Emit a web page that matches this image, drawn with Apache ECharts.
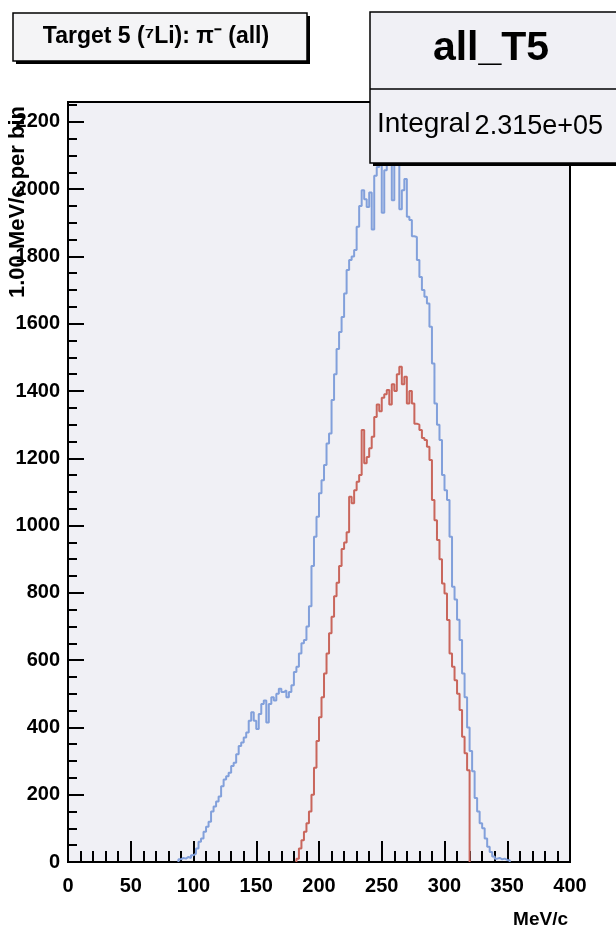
<!DOCTYPE html>
<html>
<head>
<meta charset="utf-8">
<script src="https://cdn.jsdelivr.net/npm/echarts@6/dist/echarts.min.js"></script>
<style>html,body{margin:0;padding:0;background:#fff}#c{width:616px;height:942px}</style>
</head>
<body>
<div id="c"></div>
<script>
// Histogram contents (counts per 1 MeV/c, read in 2 MeV/c steps)
const binWidth = 2;
const blueStart = 88;
const blueCounts = [
  8, 12, 10, 15, 12, 20,
  25, 40, 60, 70, 90,
  105, 120, 150, 165, 180,
  195, 225, 245, 255, 265,
  285, 295, 320, 345, 355,
  370, 385, 420, 445, 420,
  395, 440, 470, 480, 415,
  470, 490, 480, 500, 515,
  505, 510, 490, 505, 525,
  565, 580, 620, 650, 660,
  700, 760, 880, 967, 1026,
  1096, 1135, 1180, 1244, 1274,
  1373, 1450, 1525, 1575, 1620,
  1690, 1760, 1789, 1800, 1819,
  1888, 1950, 1997, 1970, 1947,
  1990, 1880, 2040, 2066, 2100,
  1930, 2056, 2120, 2150, 1967,
  2140, 2080, 1940, 1997, 2030,
  1918, 1908, 1860, 1858, 1789,
  1739, 1700, 1680, 1660, 1591,
  1482, 1363, 1300, 1254, 1150,
  1105, 1076, 967, 818, 780,
  720, 660, 560, 490, 400,
  330, 270, 190, 150, 115,
  100, 70, 45, 30, 16,
  10, 12, 8, 10, 6, 5
];
const redStart = 182;
const redCounts = [
  10, 40, 65, 90, 115, 150, 200, 280, 360,
  430, 490, 560, 620, 680, 729, 790, 830, 880, 930,
  950, 980, 1086, 1066, 1105, 1130, 1150, 1284, 1185, 1204,
  1230, 1264, 1323, 1360, 1340, 1380, 1390, 1403, 1360, 1420,
  1400, 1450, 1472, 1420, 1442, 1363, 1400, 1363, 1303, 1300,
  1284, 1260, 1254, 1234, 1195, 1076, 1016, 957, 900, 828,
  798, 719, 620, 580, 540, 500, 452, 372, 323, 273
];
const xMin = 0, xMax = 400, xStep = 50;
const yMin = 0, yMax = 2259, yStep = 200, yMinorStep = 50;
const titleText = 'Target 5 (\u2077Li): \u03c0\u207b (all)';
const statsName = 'all_T5';
const statsLabel = 'Integral';
const statsValue = '2.315e+05';
const xTitle = 'MeV/c';
const yTitle = '1.00 MeV/c per bin';

function toSteps(start, counts) {
  const pts = [[start, 0]];
  counts.forEach((c, i) => pts.push([start + i * binWidth, c]));
  pts.push([start + counts.length * binWidth, 0]);
  return pts;
}

const FONT = "'Liberation Sans', Arial, Helvetica, sans-serif";
const chart = echarts.init(document.getElementById('c'), null, {renderer: 'canvas'});
chart.setOption({
  animation: false,
  backgroundColor: '#ffffff',
  grid: {left: 68, right: 46, top: 102, bottom: 80, show: true,
         backgroundColor: '#f0f0f5', borderColor: '#000', borderWidth: 2},
  xAxis: {
    type: 'value', min: xMin, max: xMax, interval: xStep,
    axisLine: {show: true, onZero: false, lineStyle: {color: '#000', width: 2}},
    axisTick: {show: true, inside: true, length: 21, lineStyle: {color: '#000', width: 2}},
    minorTick: {show: true, splitNumber: 5, length: 11, lineStyle: {color: '#000', width: 2}},
    splitLine: {show: false}, minorSplitLine: {show: false},
    axisLabel: {color: '#000', fontFamily: FONT, fontWeight: 'bold', fontSize: 20, margin: 14}
  },
  yAxis: [{
    type: 'value', min: yMin, max: yMax, interval: yStep,
    axisLine: {show: true, onZero: false, lineStyle: {color: '#000', width: 2}},
    axisTick: {show: true, inside: true, length: 16, lineStyle: {color: '#000', width: 2}},
    splitLine: {show: false},
    axisLabel: {color: '#000', fontFamily: FONT, fontWeight: 'bold', fontSize: 20, margin: 8,
      showMaxLabel: false,
      formatter: v => (v % yStep === 0 ? String(v) : '')}
  }, {
    type: 'value', min: yMin, max: yMax, interval: yMinorStep, position: 'left',
    axisLine: {show: false},
    axisTick: {show: true, inside: true, length: 9, lineStyle: {color: '#000', width: 2}},
    splitLine: {show: false},
    axisLabel: {show: false}
  }],
  series: [{
    type: 'line', step: 'end', data: toSteps(blueStart, blueCounts), yAxisIndex: 0,
    showSymbol: false, symbol: 'none', clip: true,
    lineStyle: {color: '#82a0db', width: 2}, z: 3
  }, {
    type: 'line', step: 'end', data: toSteps(redStart, redCounts), yAxisIndex: 0,
    showSymbol: false, symbol: 'none', clip: true,
    lineStyle: {color: '#c9665c', width: 2}, z: 4
  }],
  graphic: [
    {type: 'rect', z: 100, shape: {x: 16, y: 16, width: 294, height: 48}, style: {fill: '#000'}},
    {type: 'rect', z: 101, shape: {x: 13, y: 13, width: 294, height: 48}, style: {fill: '#f4f4f6', stroke: '#000', lineWidth: 1.5}},
    {type: 'text', z: 102, x: 156, y: 37, style: {text: titleText, align: 'center', verticalAlign: 'middle', textAlign: 'center', textVerticalAlign: 'middle', font: 'bold 23px ' + FONT, fill: '#000'}},
    {type: 'rect', z: 100, shape: {x: 373, y: 15, width: 250, height: 151}, style: {fill: '#000'}},
    {type: 'rect', z: 101, shape: {x: 370, y: 12, width: 250, height: 151}, style: {fill: '#f0f0f5', stroke: '#000', lineWidth: 1.5}},
    {type: 'line', z: 102, shape: {x1: 370, y1: 89, x2: 620, y2: 89}, style: {stroke: '#000', lineWidth: 1.5}},
    {type: 'text', z: 102, x: 491, y: 49, style: {text: statsName, align: 'center', verticalAlign: 'middle', textAlign: 'center', textVerticalAlign: 'middle', font: 'bold 41px ' + FONT, fill: '#000'}},
    {type: 'text', z: 102, x: 377, y: 124, style: {text: statsLabel, align: 'left', verticalAlign: 'middle', textAlign: 'left', textVerticalAlign: 'middle', font: '28px ' + FONT, fill: '#000'}},
    {type: 'text', z: 102, x: 603, y: 127, style: {text: statsValue, align: 'right', verticalAlign: 'middle', textAlign: 'right', textVerticalAlign: 'middle', font: '27px ' + FONT, fill: '#000'}},
    {type: 'text', z: 102, x: 568, y: 920, style: {text: xTitle, align: 'right', verticalAlign: 'middle', textAlign: 'right', textVerticalAlign: 'middle', font: 'bold 19px ' + FONT, fill: '#000'}},
    {type: 'text', z: 102, x: 18, y: 202, rotation: Math.PI / 2, style: {text: yTitle, align: 'center', verticalAlign: 'middle', textAlign: 'center', textVerticalAlign: 'middle', font: 'bold 22px ' + FONT, fill: '#000'}}
  ]
});
</script>
</body>
</html>
